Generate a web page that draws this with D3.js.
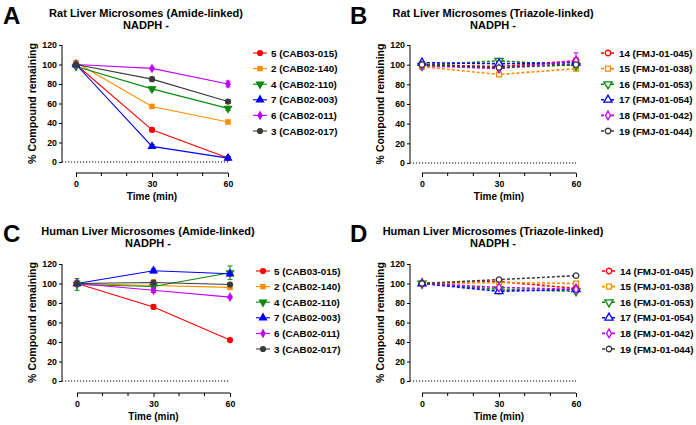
<!DOCTYPE html>
<html><head><meta charset="utf-8">
<script src="https://cdn.jsdelivr.net/npm/d3@7"></script>
<style>
body{margin:0;background:#fff;}
svg{display:block;font-family:"Liberation Sans",Arial,sans-serif;font-weight:bold;}
</style></head>
<body>
<svg id="chart" width="696" height="425"></svg>
<script>
// ---- data ----
const times = [0, 30, 60];
const xTicks = [0, 30, 60];
const xMinorTicks = [10, 20, 40, 50];
const yTicks = [0, 20, 40, 60, 80, 100, 120];

const amideNames = ["5 (CAB03-015)", "2 (CAB02-140)", "4 (CAB02-110)", "7 (CAB02-003)", "6 (CAB02-011)", "3 (CAB02-017)"];
const triazoleNames = ["14 (FMJ-01-045)", "15 (FMJ-01-038)", "16 (FMJ-01-053)", "17 (FMJ-01-054)", "18 (FMJ-01-042)", "19 (FMJ-01-044)"];
const colors = ["#ff0000", "#ff8c00", "#0a8a0a", "#0000ff", "#c000ff", "#3a3a3a"];
const symbols = ["circle", "square", "triangleDown", "triangle", "diamond", "circle"];

// Panel A: rat, amide
const ratAmide = [
  [100, 33, 4],
  [102, 57, 41],
  [98, 75, 55],
  [100, 16, 4],
  [100, 96, 80],
  [100, 85, 62]
];
const ratAmideErr = [
  [2, 2, 1],
  [2, 2, 2],
  [1, 2, 2],
  [1, 2, 1],
  [1, 1, 3],
  [1, 2, 2]
];
// Panel B: rat, triazole
const ratTriazole = [
  [100, 98, 104],
  [98, 90, 96],
  [99, 104, 99],
  [102, 101, 102],
  [99, 96, 104],
  [100, 97, 100]
];
const ratTriazoleErr = [
  [2, 3, 3],
  [1, 2, 1],
  [1, 2, 1],
  [1, 1, 1],
  [1, 1, 8],
  [1, 1, 1]
];
// Panel C: human, amide
const humanAmide = [
  [100, 76, 42],
  [100, 98, 96],
  [99, 97, 111],
  [100, 113, 110],
  [100, 93, 86],
  [100, 101, 99]
];
const humanAmideErr = [
  [3, 2, 1],
  [2, 6, 2],
  [6, 6, 7],
  [1, 2, 2],
  [1, 2, 1],
  [1, 1, 1]
];
// Panel D: human, triazole
const humanTriazole = [
  [100, 102, 95],
  [100, 101, 100],
  [100, 94, 92],
  [100, 92, 94],
  [100, 96, 94],
  [100, 104, 108]
];
const humanTriazoleErr = [
  [1, 1, 1],
  [1, 1, 1],
  [1, 1, 1],
  [1, 1, 1],
  [1, 1, 1],
  [1, 1, 1]
];

const panels = [
  {letter: "A", title: "Rat Liver Microsomes (Amide-linked)", values: ratAmide, errs: ratAmideErr, names: amideNames, open: false,
   lx: 3, ty: 0, yAxisX: 62, x0: 76, x1: 228, y0: 162, y1: 45, xAxisY: 173, titleX: 146, legX: 260},
  {letter: "B", title: "Rat Liver Microsomes (Triazole-linked)", values: ratTriazole, errs: ratTriazoleErr, names: triazoleNames, open: true,
   lx: 350, ty: 0, yAxisX: 410, x0: 422, x1: 576, y0: 163, y1: 45, xAxisY: 173, titleX: 493, legX: 608},
  {letter: "C", title: "Human Liver Microsomes (Amide-linked)", values: humanAmide, errs: humanAmideErr, names: amideNames, open: false,
   lx: 3, ty: 218, yAxisX: 62, x0: 77, x1: 230, y0: 381, y1: 264, xAxisY: 393, titleX: 148, legX: 263},
  {letter: "D", title: "Human Liver Microsomes (Triazole-linked)", values: humanTriazole, errs: humanTriazoleErr, names: triazoleNames, open: true,
   lx: 350, ty: 218, yAxisX: 410, x0: 422, x1: 576, y0: 381, y1: 264, xAxisY: 393, titleX: 493, legX: 609}
];

const svg = d3.select("#chart");

function symPath(name, size) {
  let t;
  if (name === "circle") t = d3.symbolCircle;
  else if (name === "square") t = d3.symbolSquare;
  else if (name === "triangle" || name === "triangleDown") t = d3.symbolTriangle;
  else t = d3.symbolDiamond;
  return d3.symbol().type(t).size(size)();
}

function drawMarker(g, i, open, x, y) {
  const s = symbols[i];
  let size = open ? 24 : 30;
  if (s === "triangle" || s === "triangleDown") size *= 1.2;
  if (s === "diamond") size *= 0.9;
  const m = g.append("path")
    .attr("d", symPath(s, size))
    .attr("transform", `translate(${x},${y})` + (s === "triangleDown" ? " rotate(180)" : ""));
  if (open) m.attr("fill", "#fff").attr("stroke", colors[i]).attr("stroke-width", 1.3);
  else m.attr("fill", colors[i]).attr("stroke", "none");
  return m;
}

panels.forEach(p => {
  const g = svg.append("g");
  const x = d3.scaleLinear().domain([0, 60]).range([p.x0, p.x1]);
  const y = d3.scaleLinear().domain([0, 120]).range([p.y0, p.y1]);

  // letter
  g.append("text").attr("x", p.lx).attr("y", p.ty + 24).attr("font-size", 24)
    .attr("font-family", "Liberation Sans, Arial, sans-serif").attr("font-weight", "bold").text(p.letter);
  // titles
  g.append("text").attr("x", p.titleX).attr("y", p.ty + 17).attr("text-anchor", "middle")
    .attr("font-size", 11).text(p.title);
  g.append("text").attr("x", p.titleX).attr("y", p.ty + 29).attr("text-anchor", "middle")
    .attr("font-size", 11).text("NADPH -");

  // y axis
  const ya = g.append("g").attr("transform", `translate(${p.yAxisX},0)`)
    .call(d3.axisLeft(y).tickValues(yTicks).tickSize(3).tickPadding(2));
  ya.selectAll("path.domain").attr("d", `M-0,${p.y1}V${p.y0}`).attr("stroke", "#000").attr("stroke-width", 1);
  ya.selectAll("text").attr("font-size", 8.8).attr("font-weight", "bold").attr("font-family", "Liberation Sans, Arial, sans-serif");

  // x axis
  const xa = g.append("g").attr("transform", `translate(0,${p.xAxisY})`)
    .call(d3.axisBottom(x).tickValues(xTicks).tickSize(4).tickPadding(4));
  xa.select("path.domain").attr("d", `M${p.x0},0H${p.x1}`).attr("stroke-width", 1);
  xa.selectAll("text").attr("font-size", 8.8).attr("font-weight", "bold").attr("font-family", "Liberation Sans, Arial, sans-serif");
  xa.selectAll(".minor").data(xMinorTicks).enter().append("line").attr("class", "minor")
    .attr("x1", d => x(d)).attr("x2", d => x(d)).attr("y1", 0).attr("y2", 3).attr("stroke", "#000");

  // axis labels
  g.append("text").attr("x", (p.x0 + p.x1) / 2).attr("y", p.xAxisY + 27).attr("text-anchor", "middle")
    .attr("font-size", 10).text("Time (min)");
  g.append("text").attr("transform", `translate(${p.yAxisX - 26},${(p.y0 + p.y1) / 2}) rotate(-90)`)
    .attr("text-anchor", "middle").attr("font-size", 10.5).text("% Compound remaining");

  // dotted zero line
  g.append("line").attr("x1", p.yAxisX).attr("x2", p.x1).attr("y1", y(0)).attr("y2", y(0))
    .attr("stroke", "#000").attr("stroke-width", 1).attr("stroke-dasharray", "1.2,1.8");

  const line = d3.line().x((d, j) => x(times[j])).y(d => y(d));

  // lines
  p.values.forEach((vals, i) => {
    g.append("path").datum(vals).attr("d", line).attr("fill", "none")
      .attr("stroke", colors[i]).attr("stroke-width", p.open ? 1.6 : 1.1)
      .attr("stroke-dasharray", p.open ? "3,2" : null);
  });
  // error bars + markers
  p.values.forEach((vals, i) => {
    vals.forEach((v, j) => {
      const e = p.errs[i][j];
      const cx = x(times[j]);
      g.append("line").attr("x1", cx).attr("x2", cx).attr("y1", y(v - e)).attr("y2", y(v + e))
        .attr("stroke", colors[i]).attr("stroke-width", 1);
      [v - e, v + e].forEach(ev => g.append("line").attr("x1", cx - 2.5).attr("x2", cx + 2.5)
        .attr("y1", y(ev)).attr("y2", y(ev)).attr("stroke", colors[i]).attr("stroke-width", 1));
    });
  });
  p.values.forEach((vals, i) => {
    vals.forEach((v, j) => drawMarker(g, i, p.open, x(times[j]), y(v)));
  });

  // legend
  const legTop = p.ty + 53;
  const legStep = 15.6;
  p.names.forEach((n, i) => {
    const ly = legTop + i * legStep;
    g.append("line").attr("x1", p.legX - 7).attr("x2", p.legX + 7).attr("y1", ly).attr("y2", ly)
      .attr("stroke", colors[i]).attr("stroke-width", p.open ? 1.6 : 1.1)
      .attr("stroke-dasharray", p.open ? "3,2" : null);
    drawMarker(g, i, p.open, p.legX, ly);
    g.append("text").attr("x", p.legX + 11).attr("y", ly + 3.6).attr("font-size", 9.8).text(n);
  });
});
</script>
</body></html>
